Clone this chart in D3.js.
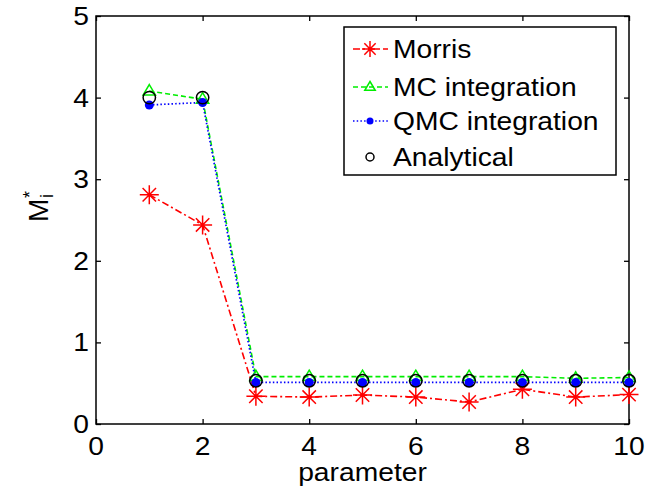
<!DOCTYPE html>
<html>
<head>
<meta charset="utf-8">
<script src="https://cdn.jsdelivr.net/npm/d3@7"></script>
<style>
  html, body { margin: 0; padding: 0; background: #fff; }
  svg { display: block; }
  text { font-family: "Liberation Sans", Arial, sans-serif; fill: #000; }
</style>
</head>
<body>
<svg id="chart" width="645" height="492"></svg>
<script>
// Parameter index on the x axis
const params = [1, 2, 3, 4, 5, 6, 7, 8, 9, 10];
// Sensitivity measure M_i^* per parameter and method
const morris     = [2.81, 2.44, 0.34, 0.33, 0.355, 0.33, 0.27, 0.425, 0.33, 0.36];
const mcIntegr   = [4.08, 3.98, 0.58, 0.58, 0.58, 0.58, 0.58, 0.58, 0.56, 0.57];
const qmcIntegr  = [3.91, 3.94, 0.51, 0.51, 0.51, 0.51, 0.51, 0.51, 0.51, 0.51];
const analytical = [4.00, 4.00, 0.53, 0.53, 0.53, 0.53, 0.53, 0.53, 0.53, 0.53];
// Tick labels
const xTicks = [0, 2, 4, 6, 8, 10];
const yTicks = [0, 1, 2, 3, 4, 5];
const legendLabels = ["Morris", "MC integration", "QMC integration", "Analytical"];

const svg = d3.select("#chart");
const pLeft = 96, pRight = 629, pTop = 16, pBottom = 424;
const SX = 1.13;          // horizontal stretch of glyphs
const FS = 25;            // font size

const x = d3.scaleLinear().domain([0, 10]).range([pLeft, pRight]);
const y = d3.scaleLinear().domain([0, 5]).range([pBottom, pTop]);

function label(g, tx, ty, str, anchor, size) {
  return g.append("text")
    .attr("transform", `translate(${tx},${ty}) scale(${SX},1)`)
    .attr("text-anchor", anchor || "start")
    .attr("font-size", size || FS)
    .text(str);
}

// Axes with inward ticks on all four sides
const axX = d3.axisBottom(x).tickValues(xTicks).tickSize(-5).tickFormat("");
const axXTop = d3.axisTop(x).tickValues(xTicks).tickSize(-5).tickFormat("");
const axY = d3.axisLeft(y).tickValues(yTicks).tickSize(-5).tickFormat("");
const axYRight = d3.axisRight(y).tickValues(yTicks).tickSize(-5).tickFormat("");

[[axX, `translate(0,${pBottom})`], [axXTop, `translate(0,${pTop})`],
 [axY, `translate(${pLeft},0)`], [axYRight, `translate(${pRight},0)`]].forEach(([ax, tr]) => {
  const g = svg.append("g").attr("transform", tr).call(ax);
  g.select(".domain").remove();
  g.selectAll(".tick line").attr("stroke", "#000").attr("stroke-width", 1.3);
});

svg.append("rect")
  .attr("x", pLeft).attr("y", pTop)
  .attr("width", pRight - pLeft).attr("height", pBottom - pTop)
  .attr("fill", "none").attr("stroke", "#000").attr("stroke-width", 1.5);

// Tick labels
const tl = svg.append("g");
xTicks.forEach(v => label(tl, x(v), pBottom + 31, String(v), "middle"));
yTicks.forEach(v => label(tl, pLeft - 7, y(v) + 9, String(v), "end"));

// Axis titles
label(svg, (pLeft + pRight) / 2, 481, "parameter", "middle");
const yl = svg.append("g").attr("transform", "translate(48,209) rotate(-90)");
yl.append("text").attr("x", -13).attr("y", 0).attr("font-size", 28).text("M");
yl.append("text").attr("x", 11).attr("y", 5).attr("font-size", 18).text("i");
yl.append("text").attr("x", 11).attr("y", -12).attr("font-size", 18).text("*");

// Marker helpers
function star(g, cx, cy, r, color) {
  const d = r * Math.SQRT1_2;
  const p = `M${cx - r},${cy}L${cx + r},${cy}M${cx},${cy - r}L${cx},${cy + r}` +
            `M${cx - d},${cy - d}L${cx + d},${cy + d}M${cx - d},${cy + d}L${cx + d},${cy - d}`;
  g.append("path").attr("d", p).attr("stroke", color).attr("stroke-width", 1.5).attr("fill", "none");
}
function tri(g, cx, cy, r, color) {
  const p = `M${cx},${cy - r}L${cx + r * 0.95},${cy + r * 0.6}L${cx - r * 0.95},${cy + r * 0.6}Z`;
  g.append("path").attr("d", p).attr("stroke", color).attr("stroke-width", 1.5).attr("fill", "none");
}
function dot(g, cx, cy, r, color) {
  g.append("circle").attr("cx", cx).attr("cy", cy).attr("r", r).attr("fill", color);
}
function ring(g, cx, cy, r, color) {
  g.append("circle").attr("cx", cx).attr("cy", cy).attr("r", r)
    .attr("fill", "none").attr("stroke", color).attr("stroke-width", 1.5);
}

const series = [
  { vals: morris, color: "#ff0000", dash: "7,3,2,3", width: 1.6, marker: (g, a, b) => star(g, a, b, 9.5, "#ff0000") },
  { vals: mcIntegr, color: "#00ee00", dash: "5,3", width: 1.6, marker: (g, a, b) => tri(g, a, b, 6.5, "#00ee00") },
  { vals: qmcIntegr, color: "#0000ff", dash: "1.5,2.2", width: 1.7, marker: (g, a, b) => dot(g, a, b, 4.5, "#0000ff") },
  { vals: analytical, color: null, dash: null, width: 0, marker: (g, a, b) => ring(g, a, b, 6.2, "#000") }
];

const line = d3.line().x(d => x(d[0])).y(d => y(d[1]));
const plot = svg.append("g");
series.forEach(s => {
  const pts = params.map((p, i) => [p, s.vals[i]]);
  if (s.color) {
    plot.append("path").attr("d", line(pts))
      .attr("fill", "none").attr("stroke", s.color)
      .attr("stroke-width", s.width).attr("stroke-dasharray", s.dash);
  }
  pts.forEach(p => s.marker(plot, x(p[0]), y(p[1])));
});

// Legend
const lg = svg.append("g");
lg.append("rect").attr("x", 344).attr("y", 27).attr("width", 272).attr("height", 148)
  .attr("fill", "#fff").attr("stroke", "#000").attr("stroke-width", 1.5);
const rowY = [49, 87, 121, 157];
const legMarkers = [
  (g, a, b) => star(g, a, b, 8, "#ff0000"),
  (g, a, b) => tri(g, a, b, 5.5, "#00ee00"),
  (g, a, b) => dot(g, a, b, 3.5, "#0000ff"),
  (g, a, b) => ring(g, a, b, 4, "#000")
];
legendLabels.forEach((t, i) => {
  const s = series[i];
  const cy = rowY[i];
  if (s.color) {
    lg.append("line").attr("x1", 353).attr("x2", 388).attr("y1", cy).attr("y2", cy)
      .attr("stroke", s.color).attr("stroke-width", s.width).attr("stroke-dasharray", s.dash);
  }
  legMarkers[i](lg, 370, cy);
  label(lg, 393, cy + 9, t, "start");
});
</script>
</body>
</html>
